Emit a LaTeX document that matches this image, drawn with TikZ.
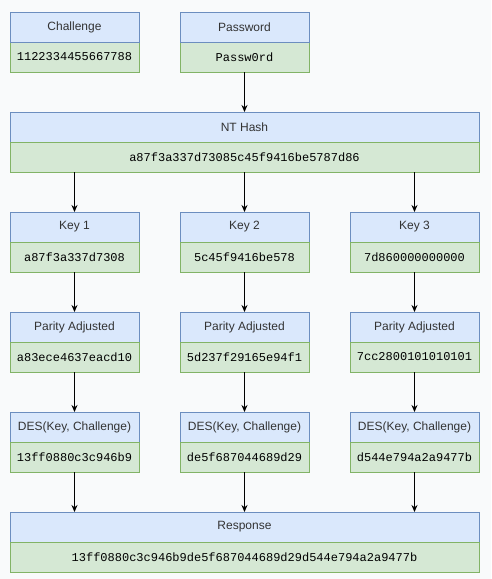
\documentclass[tikz,border=0pt]{standalone}
\usepackage{fontspec}
\setmainfont{Liberation Sans}
\setmonofont{Liberation Mono}
\usepackage{xcolor}
\usetikzlibrary{positioning,arrows.meta}

\definecolor{hdrfill}{HTML}{DAE8FC}
\definecolor{hdrline}{HTML}{6C8EBF}
\definecolor{valfill}{HTML}{D5E8D4}
\definecolor{valline}{HTML}{82B366}
\definecolor{txt}{HTML}{333333}
\definecolor{bg}{HTML}{F9FAFB}

\tikzset{
  hdr/.style={rectangle, draw=hdrline, fill=hdrfill, line width=1pt, outer sep=0pt,
    minimum width=129pt, minimum height=30pt, inner sep=0pt, text=txt,
    font=\fontsize{12}{14}\selectfont},
  val/.style={rectangle, draw=valline, fill=valfill, line width=1pt, outer sep=0pt,
    minimum width=129pt, minimum height=30pt, inner sep=0pt, text=black,
    font=\fontsize{12}{14}\selectfont\ttfamily},
  wide/.style={minimum width=469pt},
  arr/.style={-{Stealth[length=7pt,width=6pt]}, line width=1pt}
}

\begin{document}
\begin{tikzpicture}[node distance=40pt and 41pt]
  \fill[bg] (0,0) rectangle (491pt,-579pt);
  \useasboundingbox (0,0) rectangle (491pt,-579pt);

  \node[val, anchor=north west] (chalv) at (10pt,-42pt) {1122334455667788};
  \node[hdr, above=0pt of chalv] (chal) {Challenge};
  \node[val, right=41pt of chalv] (pwdv) {Passw0rd};
  \node[hdr, above=0pt of pwdv] (pwd) {Password};

  \node[hdr, wide, below=of pwdv] (nt) {NT Hash};
  \node[val, wide, below=0pt of nt] (ntv) {a87f3a337d73085c45f9416be5787d86};

  \node[hdr, below=of ntv] (key2) {Key 2};
  \node[hdr, left=41pt of key2] (key1) {Key 1};
  \node[hdr, right=41pt of key2] (key3) {Key 3};
  \node[val, below=0pt of key1] (key1v) {a87f3a337d7308};
  \node[val, below=0pt of key2] (key2v) {5c45f9416be578};
  \node[val, below=0pt of key3] (key3v) {7d860000000000};

  \node[hdr, below=of key1v] (par1) {Parity Adjusted};
  \node[hdr, below=of key2v] (par2) {Parity Adjusted};
  \node[hdr, below=of key3v] (par3) {Parity Adjusted};
  \node[val, below=0pt of par1] (par1v) {a83ece4637eacd10};
  \node[val, below=0pt of par2] (par2v) {5d237f29165e94f1};
  \node[val, below=0pt of par3] (par3v) {7cc2800101010101};

  \node[hdr, below=of par1v] (des1) {DES(Key, Challenge)};
  \node[hdr, below=of par2v] (des2) {DES(Key, Challenge)};
  \node[hdr, below=of par3v] (des3) {DES(Key, Challenge)};
  \node[val, below=0pt of des1] (des1v) {13ff0880c3c946b9};
  \node[val, below=0pt of des2] (des2v) {de5f687044689d29};
  \node[val, below=0pt of des3] (des3v) {d544e794a2a9477b};

  \node[hdr, wide, below=of des2v] (resp) {Response};
  \node[val, wide, below=0pt of resp] (respv) {13ff0880c3c946b9de5f687044689d29d544e794a2a9477b};

  \draw[arr] (pwdv) -- (nt);
  \draw[arr] (key1 |- ntv.south) -- (key1);
  \draw[arr] (ntv) -- (key2);
  \draw[arr] (key3 |- ntv.south) -- (key3);

  \draw[arr] (key1v) -- (par1);
  \draw[arr] (key2v) -- (par2);
  \draw[arr] (key3v) -- (par3);

  \draw[arr] (par1v) -- (des1);
  \draw[arr] (par2v) -- (des2);
  \draw[arr] (par3v) -- (des3);

  \draw[arr] (des1v) -- (des1v |- resp.north);
  \draw[arr] (des2v) -- (resp);
  \draw[arr] (des3v) -- (des3v |- resp.north);
\end{tikzpicture}
\end{document}
